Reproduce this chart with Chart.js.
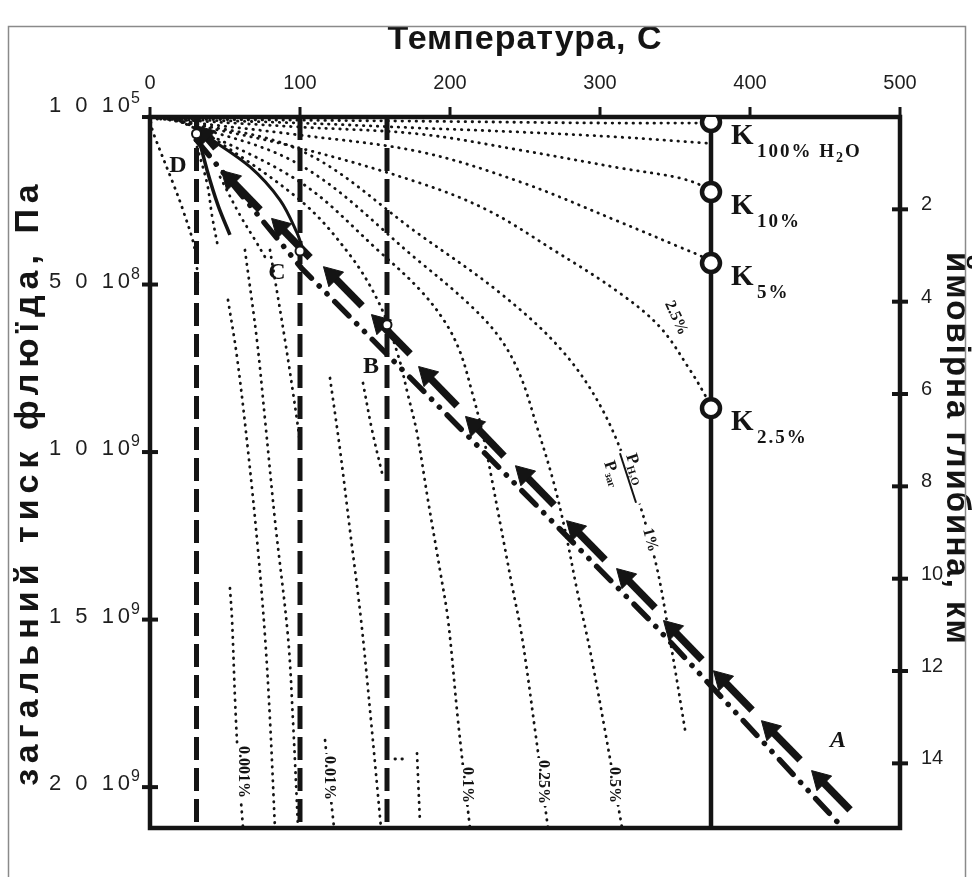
<!DOCTYPE html>
<html><head><meta charset="utf-8">
<script src="https://cdn.jsdelivr.net/npm/chart.js@4.4.1/dist/chart.umd.min.js"></script>
<style>html,body{margin:0;padding:0;background:#fff;}canvas{display:block;}</style>
</head><body>
<canvas id="c" width="974" height="877"></canvas>
<script>
// ================= DATA (temperature °C, pressure in 10^9 Pa, depth km) =================
const tempTicks = [0, 100, 200, 300, 400, 500];
const pressTicks = [0.0001, 0.5, 1.0, 1.5, 2.0];
const pressTickBase = ["1 0 10", "5 0 10", "1 0 10", "1 5 10", "2 0 10"];
const pressTickExp = ["5", "8", "9", "9", "9"];
const depthTicks = [2, 4, 6, 8, 10, 12, 14];

const critT = 374;
const dashedT = [31, 100, 158];

// critical points K on the 374 °C line
const kP = [0.015, 0.224, 0.436, 0.869];
const kSub = ["100% H", "10%", "5%", "2.5%"];

// isolines of H2O fraction (dotted)
const curve100 = [[0,.006],[167,.012],[300,.018],[374,.018]];
const curveMid = [[7,.006],[100,.018],[180,.033],[247,.045],[313,.060],[371,.078]];
const curve10 = [[10,.006],[100,.030],[180,.051],[247,.099],[313,.152],[353,.182],[370,.209],[374,.224]];
const curve5 = [[13,.009],[100,.054],[180,.104],[247,.194],[313,.313],[353,.388],[370,.421],[374,.436]];
const curve2p5 = [[17,.012],[100,.093],[180,.197],[225,.278],[269,.397],[313,.525],[340,.627],[360,.755],[370,.830],[374,.869]];
const curve1 = [[13.3,.006],[100,.099],[180,.352],[233.3,.525],[273.3,.690],[300,.860],[320,1.069],[336.7,1.322],[346.7,1.561],[357.3,1.845]];
const curve05 = [[16.7,.009],[100,.143],[180,.433],[213.3,.561],[233.3,.660],[246.7,.770],[258,.925],[268.7,1.084],[276.7,1.233],[284.7,1.412],[293.3,1.591],[303.3,1.830],[314.7,2.122]];
const curve025 = [[20,.012],[100,.194],[153.3,.403],[180,.516],[196.7,.612],[206.7,.701],[214.7,.821],[222,.949],[228,1.084],[233.3,1.209],[241.3,1.397],[248,1.552],[256.7,1.830],[265.3,2.122]];
const curve01 = [[26.7,.015],[100,.248],[133.3,.412],[153.3,.561],[165.3,.710],[172,.830],[178,.943],[185.3,1.143],[193.3,1.352],[198.7,1.501],[205.3,1.800],[213.3,2.122]];
const curve001 = [[116.7,1.860],[119.3,1.979],[122.7,2.122]];
const curve0001 = [[53.3,1.406],[54.7,1.501],[56.7,1.740],[58.7,1.919],[62,2.122]];
const curveA2 = [[52,.546],[58,.716],[65.3,.994],[72,1.293],[76.7,1.552],[80,1.800],[83.3,2.122]];
const curveA3 = [[63.3,.397],[71.3,.666],[76.7,.904],[83.3,1.203],[92,1.552],[95.3,1.800],[98.7,2.122]];
const curveA4 = [[80,.397],[90,.666],[98,.904],[100.5,.994]];
const curveA5 = [[120,.779],[126.7,.994],[133.3,1.233],[140.7,1.501],[147.3,1.800],[154,2.122]];
const curveA6 = [[142,.794],[148,.934],[154.7,1.063]];
const curveFrag = [[178,1.899],[180,2.107]];
const curveFragDots = [[163.3,1.916],[170,1.916]];
const curveL1 = [[0.5,.015],[2,.045],[15.3,.197],[22,.278],[30,.397],[32,.507]];
const curveL2 = [[30,.069],[38,.197],[41.3,.293],[45.3,.388]];
const curveL4 = [[46.7,.179],[60,.293],[70,.367],[76.7,.418]];
const solidL3 = [[32,.054],[38,.158],[45.3,.263],[53.3,.352]];
const solidArc = [[36.7,.054],[66.7,.149],[86.7,.248],[98,.346],[102,.397]];

// fluid path A -> D
const dashDotPath = [[31,.069],[101,.451],[185,.830],[335,1.510],[462,2.122]];
const arrowHead = [[36,.051],[53.3,.185],[86.7,.328],[121.3,.472],[153.3,.615],[184.7,.770],[216,.919],[249.3,1.066],[283.3,1.230],[316.7,1.373],[348,1.528],[381.3,1.678],[413.3,1.827],[446.7,1.976]];
const arrowTail = [[44,.093],[73.4,.277],[106.7,.420],[141.4,.564],[173.4,.707],[204.7,.862],[236,1.012],[269.4,1.158],[303.4,1.322],[336.7,1.465],[368,1.620],[401.4,1.770],[433.4,1.919],[466.7,2.068]];
const pathPoints = [[31,.05],[100,.40],[158,.62]];
const pathLetters = ["D", "C", "B", "A"];

// ================= CHART =================
const P_MAX = 2.122, D_MAX = 15.4;
const INK = '#141414';
const xy = a => a.map(([x, y]) => ({x, y}));

function dotted(pts) {
  return {data: xy(pts), showLine: true, pointRadius: 0, borderColor: INK, borderWidth: 2.8,
    borderDash: [0.5, 6.5], borderCapStyle: 'round', tension: 0.35, order: 10};
}
function solid(pts, w, extra) {
  return Object.assign({data: xy(pts), showLine: true, pointRadius: 0, borderColor: INK, borderWidth: w,
    tension: 0.35, order: 6}, extra || {});
}

const datasets = [];
[curve100, curveMid, curve10, curve5, curve2p5, curve1, curve05, curve025, curve01, curve001, curve0001,
 curveA2, curveA3, curveA4, curveA5, curveA6, curveFrag, curveFragDots, curveL1, curveL2, curveL4]
  .forEach(c => datasets.push(dotted(c)));
datasets.push(solid(solidL3, 3.5));
datasets.push(solid(solidArc, 3));
dashedT.forEach(t => datasets.push(solid([[t, 0], [t, P_MAX]], 5, {borderDash: [23, 8], tension: 0, order: 8})));
datasets.push(solid([[critT, 0], [critT, P_MAX]], 4.5, {tension: 0, order: 7}));
datasets.push(solid(dashDotPath, 5.5, {tension: 0, borderDash: [20, 11, 0.1, 11, 0.1, 11], borderCapStyle: 'round', order: 5}));
arrowHead.forEach((h, i) => datasets.push(solid([h, arrowTail[i]], 7.5, {tension: 0, order: 4})));
datasets.push({data: xy(arrowHead), pointStyle: 'triangle', rotation: -45, pointRadius: 12,
  backgroundColor: INK, borderColor: INK, borderWidth: 1, showLine: false, order: 3});
datasets.push({data: xy(pathPoints), pointStyle: 'circle', pointRadius: 4.5, backgroundColor: '#fff',
  borderColor: INK, borderWidth: 2, showLine: false, order: 2});
datasets.push({data: kP.map(p => ({x: critT, y: p})), pointStyle: 'circle', pointRadius: 9,
  backgroundColor: '#fff', borderColor: INK, borderWidth: 4.5, showLine: false, order: 1});

function line(ctx, x1, y1, x2, y2) { ctx.beginPath(); ctx.moveTo(x1, y1); ctx.lineTo(x2, y2); ctx.stroke(); }
function rtext(ctx, t, x, y, deg, font, spacing) {
  ctx.save(); ctx.translate(x, y); ctx.rotate(deg * Math.PI / 180); ctx.font = font;
  ctx.letterSpacing = (spacing || 0) + 'px';
  ctx.textAlign = 'center'; ctx.textBaseline = 'middle'; ctx.fillText(t, 0, 0); ctx.restore();
}
const SANS = '"Liberation Sans Narrow", "Liberation Sans", Arial, sans-serif';
const SANSB = '"Liberation Sans", Arial, sans-serif';
const SERIF = '"Liberation Serif", "Times New Roman", serif';

const deco = {
  id: 'deco',
  beforeDatasetsDraw(chart) {
    const ctx = chart.ctx, a = chart.chartArea;
    const xs = chart.scales.x, ys = chart.scales.y, dsc = chart.scales.y2;
    ctx.save();
    // axis titles
    ctx.fillStyle = INK;
    rtext(ctx, 'Температура, С', 525, 40, 0, 'bold 34px ' + SANSB, 1);
    rtext(ctx, 'загальний тиск флюїда, Па', 29, 482, -90, 'bold 34px ' + SANSB, 6);
    rtext(ctx, 'ймовірна глибина, км', 956, 449, 90, 'bold 33px ' + SANSB, 2);
    // outer frame
    ctx.strokeStyle = '#8a8a8a'; ctx.lineWidth = 1.5;
    ctx.beginPath(); ctx.moveTo(8.5, 877); ctx.lineTo(8.5, 26.5); ctx.lineTo(965.5, 26.5); ctx.lineTo(965.5, 877); ctx.stroke();
    // plot box
    ctx.strokeStyle = INK; ctx.lineWidth = 4.5; ctx.lineCap = 'square';
    ctx.strokeRect(a.left, a.top, a.right - a.left, a.bottom - a.top);
    ctx.lineCap = 'butt';
    ctx.lineWidth = 3;
    tempTicks.forEach(t => { const x = xs.getPixelForValue(t); line(ctx, x, a.top, x, a.top - 10); });
    ctx.lineWidth = 4;
    pressTicks.forEach(p => { const y = ys.getPixelForValue(p); line(ctx, a.left - 8, y, a.left + 8, y); });
    depthTicks.forEach(d => { const y = dsc.getPixelForValue(d); line(ctx, a.right - 8, y, a.right + 8, y); });
    // tick labels
    ctx.fillStyle = '#1e1e1e';
    ctx.font = '20px ' + SANS; ctx.textAlign = 'center'; ctx.textBaseline = 'alphabetic';
    tempTicks.forEach(t => ctx.fillText(String(t), xs.getPixelForValue(t), 89));
    pressTicks.forEach((p, i) => {
      const y = ys.getPixelForValue(p) + (i === 0 ? -5 : 3);
      ctx.font = '16px ' + SANS; ctx.textAlign = 'right';
      const ew = ctx.measureText(pressTickExp[i]).width;
      ctx.fillText(pressTickExp[i], 140, y - 9);
      ctx.font = '22px ' + SANS; ctx.letterSpacing = '4px';
      ctx.fillText(pressTickBase[i], 140 - ew + 3, y);
      ctx.letterSpacing = '0px';
    });
    ctx.font = '20px ' + SANS; ctx.textAlign = 'left';
    depthTicks.forEach(d => ctx.fillText(String(d), 921, dsc.getPixelForValue(d) + 1));
    ctx.restore();
  },
  afterDatasetsDraw(chart) {
    const ctx = chart.ctx;
    const xs = chart.scales.x, ys = chart.scales.y;
    ctx.save();
    ctx.fillStyle = INK;
    // K labels
    const kx = xs.getPixelForValue(critT);
    kP.forEach((p, i) => {
      const y = ys.getPixelForValue(p);
      ctx.textAlign = 'left'; ctx.textBaseline = 'alphabetic';
      ctx.font = 'bold 29px ' + SERIF; ctx.letterSpacing = '0px'; ctx.fillText('K', kx + 20, y + 22);
      ctx.font = 'bold 19px ' + SERIF; ctx.letterSpacing = '2px'; ctx.fillText(kSub[i], kx + 46, y + 35);
      if (i === 0) {
        const w = ctx.measureText(kSub[i]).width;
        ctx.font = 'bold 14px ' + SERIF; ctx.fillText('2', kx + 46 + w, y + 40);
        ctx.font = 'bold 19px ' + SERIF; ctx.fillText('O', kx + 46 + w + 9, y + 35);
      }
    });
    ctx.letterSpacing = '0px';
    // path letters
    ctx.font = 'bold 24px ' + SERIF; ctx.textAlign = 'center'; ctx.textBaseline = 'middle';
    ctx.fillText(pathLetters[0], 178, 166);
    ctx.fillText(pathLetters[1], 277, 273);
    ctx.fillText(pathLetters[2], 371, 367);
    ctx.font = 'italic bold 24px ' + SERIF;
    ctx.fillText(pathLetters[3], 838, 741);
    // isoline labels (bottom, rotated)
    const labs = [['0.001%', 243, 772], ['0.01%', 329, 778], ['0.1%', 467, 785], ['0.25%', 543, 782], ['0.5%', 614, 785]];
    labs.forEach(([t, x, y]) => {
      ctx.font = 'bold 16px ' + SERIF;
      const w = ctx.measureText(t).width;
      ctx.save(); ctx.translate(x, y); ctx.rotate(Math.PI / 2);
      ctx.fillStyle = '#fff'; ctx.fillRect(-w / 2 - 2, -8, w + 4, 16);
      ctx.fillStyle = INK; ctx.textAlign = 'center'; ctx.textBaseline = 'middle'; ctx.fillText(t, 0, 0);
      ctx.restore();
    });
    // upper labels
    [['2.5%', 676, 318, 65], ['1%', 650, 540, 75]].forEach(([t, x, y, r]) => {
      ctx.font = 'bold 16px ' + SERIF;
      const w = ctx.measureText(t).width;
      ctx.save(); ctx.translate(x, y); ctx.rotate(r * Math.PI / 180);
      ctx.fillStyle = '#fff'; ctx.fillRect(-w / 2 - 2, -8, w + 4, 16);
      ctx.fillStyle = INK; ctx.textAlign = 'center'; ctx.textBaseline = 'middle'; ctx.fillText(t, 0, 0);
      ctx.restore();
    });
    // fraction annotation P_H2O / P
    ctx.save(); ctx.translate(628, 478); ctx.rotate(72 * Math.PI / 180);
    ctx.fillStyle = '#fff'; ctx.fillRect(-28, -22, 56, 44);
    ctx.fillStyle = INK; ctx.strokeStyle = INK; ctx.lineWidth = 2;
    line(ctx, -26, 0, 26, 0);
    ctx.textBaseline = 'alphabetic'; ctx.textAlign = 'left';
    ctx.font = 'bold 17px ' + SERIF; ctx.fillText('P', -22, -5);
    ctx.font = 'bold 11px ' + SERIF; ctx.fillText('H₂O', -11, -2);
    ctx.font = 'bold 17px ' + SERIF; ctx.fillText('P', -22, 18);
    ctx.font = 'bold 11px ' + SERIF; ctx.fillText('заг', -11, 21);
    ctx.restore();
    ctx.restore();
  }
};

new Chart(document.getElementById('c'), {
  type: 'scatter',
  data: {datasets},
  options: {
    responsive: false, animation: false, devicePixelRatio: 1,
    layout: {padding: {left: 150, top: 117, right: 74, bottom: 49}},
    plugins: {legend: {display: false}, tooltip: {enabled: false}},
    scales: {
      x: {type: 'linear', min: 0, max: 500, display: false},
      y: {type: 'linear', min: 0, max: P_MAX, reverse: true, display: false},
      y2: {type: 'linear', min: 0, max: D_MAX, reverse: true, display: false, position: 'right'}
    }
  },
  plugins: [deco]
});
</script>
</body></html>
